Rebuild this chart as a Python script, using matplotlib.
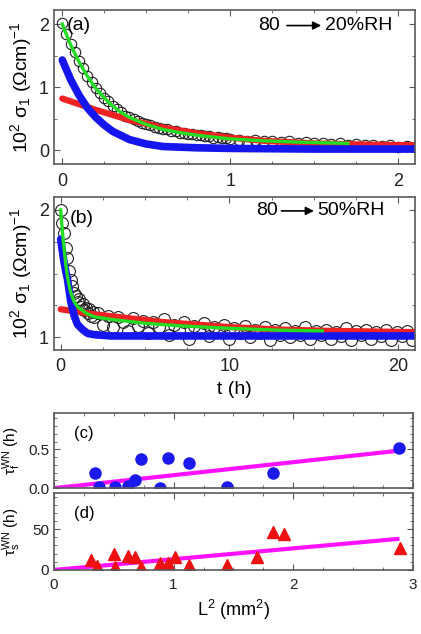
import matplotlib
matplotlib.use('Agg')
import matplotlib.pyplot as plt
from matplotlib.ticker import MultipleLocator

plt.rcParams['font.family'] = ['Liberation Sans', 'DejaVu Sans']
plt.rcParams['mathtext.default'] = 'regular'

# ---- panel (a): 80 -> 20 %RH, measured sigma_1 (open circles)
t_a = [0.0, 0.025, 0.05, 0.075, 0.1, 0.125, 0.15, 0.175, 0.2, 0.225, 0.25, 0.275,
       0.3, 0.325, 0.35, 0.375, 0.4, 0.425, 0.45, 0.475, 0.5, 0.525, 0.55, 0.575,
       0.6, 0.625, 0.65, 0.675, 0.7, 0.725, 0.75, 0.775, 0.8, 0.825, 0.85, 0.875,
       0.9, 0.925, 0.95, 0.975, 1.0,
       1.05, 1.1, 1.15, 1.2, 1.25, 1.3, 1.35, 1.4, 1.45, 1.5, 1.55, 1.6, 1.65, 1.7,
       1.75, 1.8, 1.85, 1.9, 1.95, 2.0, 2.05, 2.1]
sig_a = [2.02, 1.85, 1.68, 1.55, 1.42, 1.30, 1.18, 1.08, 0.99, 0.91, 0.83, 0.78,
         0.70, 0.66, 0.60, 0.55, 0.52, 0.50, 0.46, 0.44, 0.41, 0.40, 0.37, 0.36,
         0.33, 0.33, 0.30, 0.30, 0.28, 0.28, 0.26, 0.26, 0.24, 0.24, 0.22, 0.22,
         0.20, 0.21, 0.19, 0.19, 0.18,
         0.17, 0.15, 0.16, 0.14, 0.15, 0.13, 0.14, 0.12, 0.13, 0.11, 0.12, 0.10, 0.11,
         0.09, 0.10, 0.08, 0.09, 0.07, 0.08, 0.06, 0.07, 0.05]

# fits, panel (a)
fit_a_t = [0.0, 0.025, 0.05, 0.075, 0.1, 0.15, 0.2, 0.25, 0.3, 0.35, 0.4, 0.5, 0.6,
           0.7, 0.8, 0.9, 1.0, 1.2, 1.4, 1.7]
fit_a = [2.0, 1.83, 1.67, 1.53, 1.40, 1.17, 0.98, 0.83, 0.70, 0.60, 0.52, 0.41, 0.33,
         0.28, 0.24, 0.21, 0.18, 0.15, 0.13, 0.11]
slow_a_t = [0.0, 0.1, 0.2, 0.3, 0.4, 0.5, 0.6, 0.8, 1.0, 1.2, 1.5, 1.8, 2.1]
slow_a = [0.82, 0.73, 0.64, 0.56, 0.48, 0.42, 0.36, 0.27, 0.20, 0.15, 0.11, 0.09, 0.08]
fast_a_t = [0.0, 0.05, 0.1, 0.15, 0.2, 0.25, 0.3, 0.4, 0.5, 0.6, 0.8, 1.0, 1.5, 2.1]
fast_a = [1.43, 1.12, 0.87, 0.67, 0.52, 0.40, 0.30, 0.17, 0.10, 0.06, 0.04, 0.03, 0.02, 0.02]

# ---- panel (b): 80 -> 50 %RH
t_b = [0.0, 0.1, 0.2, 0.3, 0.4, 0.5, 0.6, 0.7, 0.8, 0.9, 1.0, 1.1, 1.2, 1.3, 1.4,
       1.5, 1.6, 1.7, 1.8, 1.9, 2.0,
       2.2, 2.5, 2.8, 3.1, 3.4, 3.7, 4.0, 4.3, 4.6, 4.9, 5.2, 5.5, 5.8, 6.1, 6.4,
       6.7, 7.0, 7.3, 7.6, 7.9, 8.2, 8.5, 8.8, 9.1, 9.4, 9.7, 10.0, 10.3, 10.6,
       10.9, 11.2, 11.5, 11.8, 12.1, 12.4, 12.7, 13.0, 13.3, 13.6, 13.9, 14.2,
       14.5, 14.8, 15.1, 15.4, 15.7, 16.0, 16.3, 16.6, 16.9, 17.2, 17.5, 17.8,
       18.1, 18.4, 18.7, 19.0, 19.3, 19.6, 19.9, 20.2, 20.5, 20.8]
sig_b = [2.00, 1.90, 1.82, 1.70, 1.62, 1.52, 1.45, 1.40, 1.35, 1.32, 1.28, 1.30,
         1.24, 1.26, 1.21, 1.23, 1.19, 1.22, 1.17, 1.20, 1.16,
         1.19, 1.10, 1.17, 1.08, 1.16, 1.12, 1.05, 1.15, 1.09, 1.13, 1.03, 1.12,
         1.08, 1.14, 1.02, 1.10, 1.06, 1.12, 0.99, 1.09, 1.05, 1.11, 1.01, 1.08,
         1.04, 1.10, 0.99, 1.07, 1.03, 1.09, 1.00, 1.06, 1.03, 1.08, 0.98, 1.06,
         1.02, 1.07, 1.00, 1.05, 1.02, 1.08, 0.99, 1.05, 1.02, 1.06, 0.99, 1.04,
         1.01, 1.07, 0.98, 1.05, 1.02, 1.06, 0.99, 1.04, 1.01, 1.06, 0.98, 1.04,
         1.01, 1.05, 0.98]

fit_b_t = [0.0, 0.1, 0.2, 0.3, 0.4, 0.5, 0.6, 0.8, 1.0, 1.5, 2.0, 3.0, 5.0, 7.0,
           10.0, 13.0, 15.5]
fit_b = [2.0, 1.84, 1.70, 1.58, 1.48, 1.41, 1.35, 1.28, 1.24, 1.19, 1.16, 1.14,
         1.11, 1.09, 1.07, 1.055, 1.05]
slow_b_t = [0.0, 1.0, 2.0, 4.0, 6.0, 8.0, 10.0, 13.0, 16.0, 21.0]
slow_b = [1.22, 1.20, 1.18, 1.15, 1.12, 1.10, 1.08, 1.06, 1.05, 1.04]
fast_b_t = [0.0, 0.1, 0.2, 0.3, 0.4, 0.5, 0.6, 0.8, 1.0, 1.3, 1.6, 2.0, 3.0, 21.0]
fast_b = [1.77, 1.68, 1.59, 1.52, 1.46, 1.37, 1.28, 1.17, 1.10, 1.06, 1.03, 1.02,
          1.01, 1.01]

# ---- panels (c), (d): time constants vs L^2
L2 = [0.34, 0.38, 0.51, 0.62, 0.68, 0.73, 0.89, 0.95, 1.13, 1.45, 1.83, 2.88]
tau_f = [0.19, 0.02, 0.02, 0.03, 0.11, 0.38, 0.0, 0.39, 0.33, 0.02, 0.20, 0.52]
L2_s = [0.31, 0.36, 0.50, 0.51, 0.62, 0.68, 0.73, 0.89, 0.95, 1.01, 1.13, 1.45,
        1.70, 1.83, 1.92, 2.89]
tau_s = [12.5, 5, 19, 4, 17.5, 16, 4, 9, 8, 16, 6, 6, 16, 46, 44, 27]
line_L2 = [0.0, 2.87]
line_f = [0.0, 0.48]
line_s = [0.0, 38.0]

spine_c = '#5a5a5a'


def style(ax, xmaj, xmin, ymaj, ymin, size):
    for s in ax.spines.values():
        s.set_color(spine_c)
        s.set_linewidth(1.2)
    ax.xaxis.set_major_locator(MultipleLocator(xmaj))
    ax.xaxis.set_minor_locator(MultipleLocator(xmin))
    ax.yaxis.set_major_locator(MultipleLocator(ymaj))
    ax.yaxis.set_minor_locator(MultipleLocator(ymin))
    ax.tick_params(which='both', direction='in', top=True, right=True,
                   color=spine_c, labelsize=size, labelcolor='#222222')
    ax.tick_params(which='major', length=4)
    ax.tick_params(which='minor', length=2.5)
    ax.tick_params(axis='x', pad=6)


def rh_label(ax, x0, lo, hi, y, text):
    ax.text(x0, y, '80', transform=ax.transAxes, fontsize=14, va='center')
    ax.annotate('', xy=(hi, y), xytext=(lo, y), xycoords='axes fraction',
                arrowprops=dict(arrowstyle='-|>', color='black', lw=1.2,
                                mutation_scale=12, shrinkA=0, shrinkB=0))
    ax.text(hi + 0.01, y, text, transform=ax.transAxes, fontsize=14, va='center')


fig = plt.figure(figsize=(4.21, 6.34), dpi=100)
ax_a = fig.add_axes([0.128, 0.741, 0.858, 0.243])
ax_b = fig.add_axes([0.128, 0.448, 0.858, 0.241])
ax_c = fig.add_axes([0.128, 0.230, 0.853, 0.119])
ax_d = fig.add_axes([0.128, 0.101, 0.853, 0.121])

ylab = '10$^2$ σ$_1$ (Ωcm)$^{-1}$'

# (a)
ax_a.plot(t_a, sig_a, 'o', ms=7.5, mfc='none', mec='#202020', mew=0.8)
ax_a.plot(slow_a_t, slow_a, '-', color='#ee2222', lw=4.5, solid_capstyle='round')
ax_a.plot(fast_a_t, fast_a, '-', color='#1515ee', lw=5.5, solid_capstyle='round')
ax_a.plot(fit_a_t, fit_a, '-', color='#22dd22', lw=2.4)
ax_a.set_xlim(-0.05, 2.1)
ax_a.set_ylim(-0.22, 2.22)
style(ax_a, 1, 0.25, 1, 0.5, 13)
ax_a.set_ylabel(ylab, fontsize=14)
ax_a.yaxis.set_label_coords(-0.055, 0.5)
ax_a.text(0.035, 0.9, '(a)', transform=ax_a.transAxes, fontsize=14, va='center')
rh_label(ax_a, 0.565, 0.645, 0.74, 0.9, '20%RH')

# (b)
ax_b.plot(t_b, sig_b, 'o', ms=8.5, mfc='none', mec='#202020', mew=0.8)
ax_b.plot(slow_b_t, slow_b, '-', color='#ee2222', lw=4.5, solid_capstyle='round')
ax_b.plot(fast_b_t, fast_b, '-', color='#1515ee', lw=5.5, solid_capstyle='round')
ax_b.plot(fit_b_t, fit_b, '-', color='#22dd22', lw=2.4)
ax_b.set_xlim(-0.4, 21)
ax_b.set_ylim(0.9, 2.1)
style(ax_b, 10, 2.5, 1, 0.25, 13)
ax_b.set_ylabel(ylab, fontsize=14)
ax_b.yaxis.set_label_coords(-0.055, 0.5)
ax_b.set_xlabel('t (h)', fontsize=14)
ax_b.xaxis.set_label_coords(0.5, -0.2)
ax_b.text(0.045, 0.86, '(b)', transform=ax_b.transAxes, fontsize=14, va='center')
rh_label(ax_b, 0.56, 0.63, 0.72, 0.91, '50%RH')

# (c)
ax_c.plot(line_L2, line_f, '-', color='#ff11ff', lw=3)
ax_c.plot(L2, tau_f, 'o', ms=8, color='#1a1aee')
ax_c.set_xlim(0, 3)
ax_c.set_ylim(0, 0.97)
style(ax_c, 1, 0.25, 0.5, 0.1, 11)
ax_c.set_yticks([0.0, 0.5])
ax_c.set_yticklabels(['0.0', '0.5'])
ax_c.tick_params(labelbottom=False)
ax_c.set_ylabel(r'τ$_f^{WN}$ (h)', fontsize=11)
ax_c.yaxis.set_label_coords(-0.085, 0.5)
ax_c.text(0.055, 0.72, '(c)', transform=ax_c.transAxes, fontsize=12, va='center')

# (d)
ax_d.plot(line_L2, line_s, '-', color='#ff11ff', lw=3)
ax_d.plot(L2_s, tau_s, '^', ms=8.5, color='#ee1111')
ax_d.set_xlim(0, 3)
ax_d.set_ylim(0, 94)
style(ax_d, 1, 0.25, 50, 10, 11)
ax_d.set_ylabel(r'τ$_s^{WN}$ (h)', fontsize=11)
ax_d.yaxis.set_label_coords(-0.085, 0.5)
ax_d.set_xlabel('L$^2$ (mm$^2$)', fontsize=13)
ax_d.xaxis.set_label_coords(0.5, -0.36)
ax_d.text(0.055, 0.73, '(d)', transform=ax_d.transAxes, fontsize=12, va='center')

fig.savefig('out.png', dpi=100)
